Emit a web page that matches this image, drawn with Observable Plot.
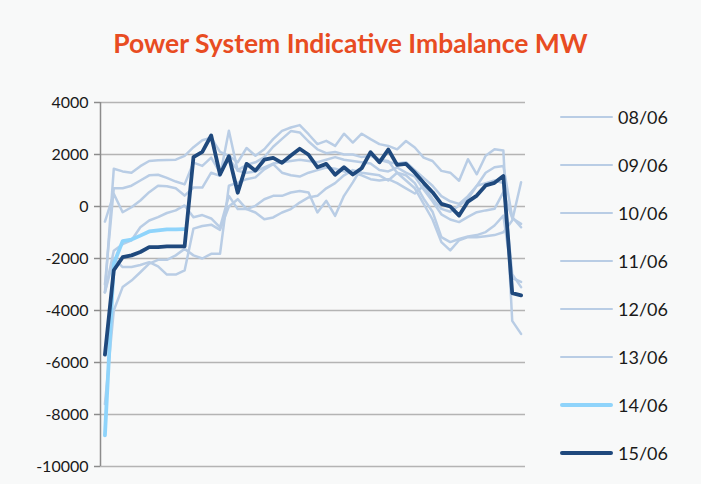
<!DOCTYPE html>
<html><head><meta charset="utf-8">
<script src="https://cdn.jsdelivr.net/npm/d3@7"></script>
<script src="https://cdn.jsdelivr.net/npm/@observablehq/plot@0.6"></script>
<style>
html,body{margin:0;padding:0;background:#f8f9f9;}
#wrap{position:relative;width:701px;height:484px;overflow:hidden;font-family:Lato,"Open Sans",sans-serif;background:#f8f9f9;}
#title{height:80px;box-sizing:border-box;padding-top:28px;text-align:center;font-weight:700;font-size:26.5px;line-height:30px;color:#e84c22;}
#legend{position:absolute;left:560px;top:93px;}
.item{display:flex;align-items:center;height:48px;}
.swatch{width:53px;margin-right:5px;border-radius:2px;}
.label{font-size:18px;color:#1a1a1a;}
</style></head>
<body>
<div id="wrap">
  <div id="title">Power System Indicative Imbalance MW</div>
  <div id="chart"></div>
  <div id="legend"></div>
</div>
<script>
// Legend labels (dates)
const dates = ["08/06","09/06","10/06","11/06","12/06","13/06","14/06","15/06"];
// Y axis tick values
const yTicks = [-10000,-8000,-6000,-4000,-2000,0,2000,4000];

// Half-hourly settlement periods (48 per day), values in MW
const s0806 = [-3300,1450,1350,1300,1550,1750,1780,1790,1800,1950,2280,2550,2650,2100,1950,1700,2250,1950,2200,2590,2910,3040,3130,2780,2400,2525,2330,2800,2460,2800,2590,2400,2330,2200,2520,2270,1880,1750,1370,1300,990,1820,1240,1950,2200,2150,-4400,-4900];
const s0906 = [-3000,700,700,800,1000,1200,1220,1100,960,850,1690,1560,1880,1300,1820,1400,1600,1700,1900,2300,2600,2900,2850,2500,2200,2050,2100,2000,2000,1900,1950,1800,1700,1650,1700,1400,1100,800,400,200,100,400,800,1300,1510,1560,-410,-800];
const s1006 = [-580,490,-220,-30,230,550,800,780,700,420,730,730,1300,1180,2910,1370,1300,1350,1500,1650,1700,1750,1800,1750,1700,1800,1900,1800,1750,1700,1650,1400,1350,1500,1300,1150,650,200,-300,-500,-600,-400,-220,-150,-90,550,-450,-670];
const s1106 = [-3300,-1700,-1450,-1300,-800,-540,-410,-250,-150,40,-410,-330,-460,-800,410,-100,-100,25,280,410,410,540,600,540,-230,220,-360,410,930,1500,2000,1800,1750,1300,1000,700,100,-500,-1370,-1690,-1300,-1180,-1180,-1140,-1100,-990,-540,930];
const s1206 = [-3300,-2000,-2330,-2330,-2250,-2140,-2300,-2620,-2620,-2460,-850,-750,-700,-900,0,282,-100,-230,-490,-420,-230,-100,150,350,410,700,900,1200,1400,1300,1250,1200,1000,1300,1200,900,300,-200,-1180,-1370,-1250,-1150,-1100,-985,-730,-350,-2750,-2900];
const s1306 = [-7600,-4000,-3100,-2850,-2530,-2200,-2050,-2050,-1880,-1630,-1880,-2000,-1820,-1820,800,920,1050,1120,1430,1630,1300,1200,1150,1300,1400,1500,1450,1350,1300,1200,1050,1000,1050,900,700,500,800,300,-90,-200,38,300,800,900,1000,900,-2600,-3100];
const s1406 = [-8800,-2200,-1330,-1270,-1120,-960,-920,-880,-880,-870];
const s1506 = [-5700,-2450,-1950,-1880,-1750,-1560,-1560,-1530,-1530,-1530,1900,2100,2730,1230,1930,530,1640,1380,1800,1870,1680,1960,2220,1990,1510,1640,1220,1510,1230,1470,2090,1700,2190,1600,1640,1300,910,550,100,0,-350,190,420,810,910,1170,-3330,-3420];

const seriesValues = [s0806,s0906,s1006,s1106,s1206,s1306,s1406,s1506];
const colors = ["#b9cde5","#b9cde5","#b9cde5","#b9cde5","#b9cde5","#b9cde5","#8fd4fb","#1f497d"];
const widths = [2.5,2.5,2.5,2.5,2.5,2.5,3.8,3.8];

const rows = (k) => seriesValues[k].map((v,i) => ({x:i, y:v, series:dates[k]}));
const grey = [0,1,2,3,4,5].flatMap(rows);

const chart = Plot.plot({
  width: 701, height: 404,
  marginLeft: 100, marginRight: 176, marginTop: 22, marginBottom: 18,
  style: {background:"transparent", fontFamily:"Lato, sans-serif", fontSize:"16px", color:"#1a1a1a", overflow:"visible"},
  x: {domain:[-0.5, 47.5], axis:null},
  y: {domain:[-10000, 4000], axis:null},
  marks: [
    Plot.gridY(yTicks, {stroke:"#b4b4b4", strokeOpacity:1, strokeWidth:1.5}),
    Plot.ruleX([-0.5], {stroke:"#8c8c8c", strokeWidth:1.5}),
    Plot.axisY(yTicks, {tickSize:6, tickPadding:6, stroke:"#8c8c8c", strokeWidth:1.5, fontSize:16, fill:"#1a1a1a", tickFormat:d => String(d), label:null}),
    Plot.line(grey, {x:"x", y:"y", z:"series", stroke:colors[0], strokeWidth:widths[0]}),
    Plot.line(rows(6), {x:"x", y:"y", stroke:colors[6], strokeWidth:widths[6]}),
    Plot.line(rows(7), {x:"x", y:"y", stroke:colors[7], strokeWidth:widths[7]})
  ]
});
document.getElementById("chart").appendChild(chart);

const legend = document.getElementById("legend");
dates.forEach((d,k) => {
  const item = document.createElement("div"); item.className = "item";
  const sw = document.createElement("div"); sw.className = "swatch";
  sw.style.height = widths[k] + "px"; sw.style.background = colors[k];
  const lb = document.createElement("span"); lb.className = "label"; lb.textContent = d;
  item.appendChild(sw); item.appendChild(lb); legend.appendChild(item);
});
</script>
</body></html>
